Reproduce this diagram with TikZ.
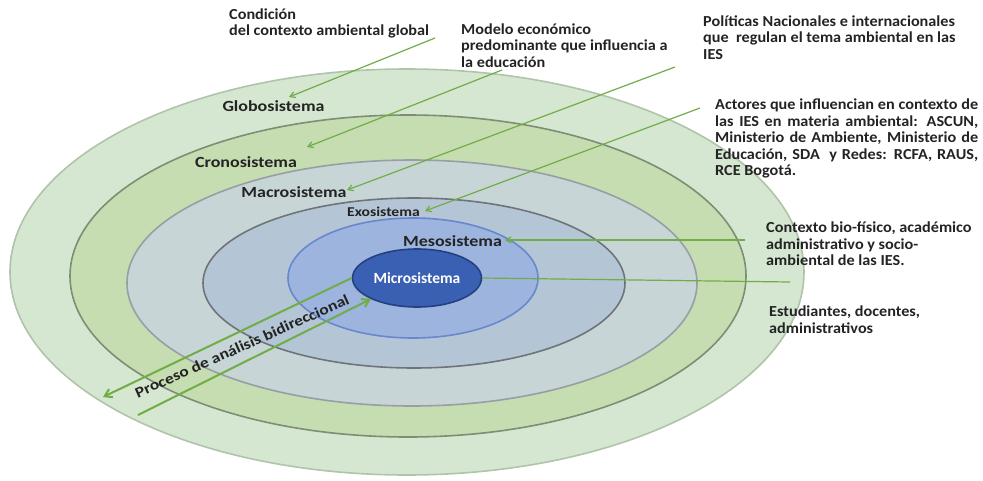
\documentclass[tikz,border=0pt]{standalone}
\usepackage{fontspec}
\setmainfont{Carlito}[BoldFont={Carlito Bold}]
\newfontfamily\widefont{Carlito}[BoldFont={Carlito Bold}, FakeStretch=1.16]
\newfontfamily\notefont{Carlito}[BoldFont={Carlito Bold}, FakeStretch=1.06]
\usetikzlibrary{shapes.geometric,arrows.meta}

\definecolor{leafgreen}{HTML}{70AD47}
\definecolor{txtgray}{HTML}{232323}
\definecolor{globoFill}{HTML}{D5E7D0}
\definecolor{globoEdge}{HTML}{AFC4A9}
\definecolor{cronoFill}{HTML}{C6DCB1}
\definecolor{cronoEdge}{HTML}{7E8D74}
\definecolor{macroFill}{HTML}{C7D5D6}
\definecolor{macroEdge}{HTML}{979FA5}
\definecolor{exoFill}{HTML}{B4C6D6}
\definecolor{exoEdge}{HTML}{6F7479}
\definecolor{mesoFill}{HTML}{9DB4DE}
\definecolor{mesoEdge}{HTML}{6987CD}
\definecolor{microFill}{HTML}{3A60B4}
\definecolor{microEdge}{HTML}{24407F}

\tikzstyle{ring}=[ellipse, inner sep=0pt, line width=1.6pt]
\tikzstyle{sys}=[font=\widefont\bfseries\fontsize{15.5}{18}\selectfont, text=txtgray, inner sep=0pt]
\tikzstyle{note}=[font=\notefont\bfseries\fontsize{15.3}{16.5}\selectfont, text=txtgray, align=left, anchor=north west, inner sep=0pt]
\tikzstyle{arr}=[draw=leafgreen, line width=1.2pt, >={Straight Barb[length=5pt,width=6pt]}]
\tikzstyle{bigarr}=[draw=leafgreen, line width=2pt, >={Straight Barb[length=7pt,width=9pt]}]

\begin{document}
\begin{tikzpicture}[x=1pt, y=-1pt]
    \useasboundingbox (0,0) rectangle (983,480);

    % rings, outside in
    \node[ring, fill=globoFill, draw=globoEdge, minimum width=794pt, minimum height=406pt] (globo) at (407,272) {};
    \node[ring, fill=cronoFill, draw=cronoEdge, minimum width=676pt, minimum height=322pt] (crono) at (408,276) {};
    \node[ring, fill=macroFill, draw=macroEdge, minimum width=570pt, minimum height=246pt] (macro) at (412,283) {};
    \node[ring, fill=exoFill, draw=exoEdge, minimum width=422pt, minimum height=170pt] (exo) at (414,283) {};
    \node[ring, fill=mesoFill, draw=mesoEdge, minimum width=250pt, minimum height=120pt] (meso) at (413,278) {};
    \node[ring, fill=microFill, draw=microEdge, minimum width=129pt, minimum height=58pt,
          text=white, font=\bfseries\fontsize{15.5}{17}\selectfont] (micro) at (417,278) {Microsistema};

    % names of the systems
    \node[sys] (globoL) at (273.5,106) {Globosistema};
    \node[sys] (cronoL) at (246,162) {Cronosistema};
    \node[sys] (macroL) at (294,192) {Macrosistema};
    \node[sys, font=\widefont\bfseries\fontsize{13.5}{15}\selectfont] (exoL) at (383.5,212) {Exosistema};
    \node[sys] (mesoL) at (452.5,241) {Mesosistema};

    % descriptions
    \node[note] (condicion) at (229,8.5) {Condición\\del contexto ambiental global};
    \node[note] (modelo) at (461,23.5) {Modelo económico\\predominante que influencia a\\la educación};
    \node[note] (politicas) at (703,15.5) {Políticas Nacionales e internacionales\\que\ \ regulan el tema ambiental en las\\IES};
    \node[note, text width=263pt, align=justify] (actores) at (715,99) {Actores que influencian en contexto de\linebreak las IES en materia ambiental: ASCUN,\linebreak Ministerio de Ambiente, Ministerio de\linebreak Educación, SDA\ \ y Redes: RCFA, RAUS,\linebreak RCE Bogotá.};
    \node[note] (contexto) at (766,222) {Contexto bio-físico, académico\\administrativo y socio-\\ambiental de las IES.};
    \node[note] (estudiantes) at (769,306) {Estudiantes, docentes,\\administrativos};

    % pointers
    \coordinate (fromCond) at (435,38);
    \coordinate (fromModelo) at (502,70);
    \coordinate (fromPol) at (675,67);
    \coordinate (fromAct) at (700,108);
    \coordinate (fromCtx) at (745,240);
    \coordinate (fromEst) at (790,282);

    \coordinate (tipGlobo) at (289,97) edge[arr, <-] (fromCond);
    \coordinate (tipCrono) at (307,147) edge[arr, <-] (fromModelo);
    \coordinate (tipMacro) at (347,190) edge[arr, <-] (fromPol);
    \coordinate (tipExo) at (425,211) edge[arr, <-] (fromAct);
    \coordinate (tipMeso) at (505,240) edge[arr, <-] (fromCtx);
    \draw[arr] (micro.east) -- (fromEst);

    % bidirectional process
    \coordinate (outEnd) at (103,397);
    \coordinate (inStart) at (138,415);
    \draw[bigarr, ->] (micro.west) -- (outEnd);
    \draw[bigarr, ->] (inStart) -- (micro.south west);
    \node[sys, rotate=24, font=\widefont\bfseries\fontsize{15}{17}\selectfont] (proceso) at (242,346) {Proceso de análisis bidireccional};
\end{tikzpicture}
\end{document}
